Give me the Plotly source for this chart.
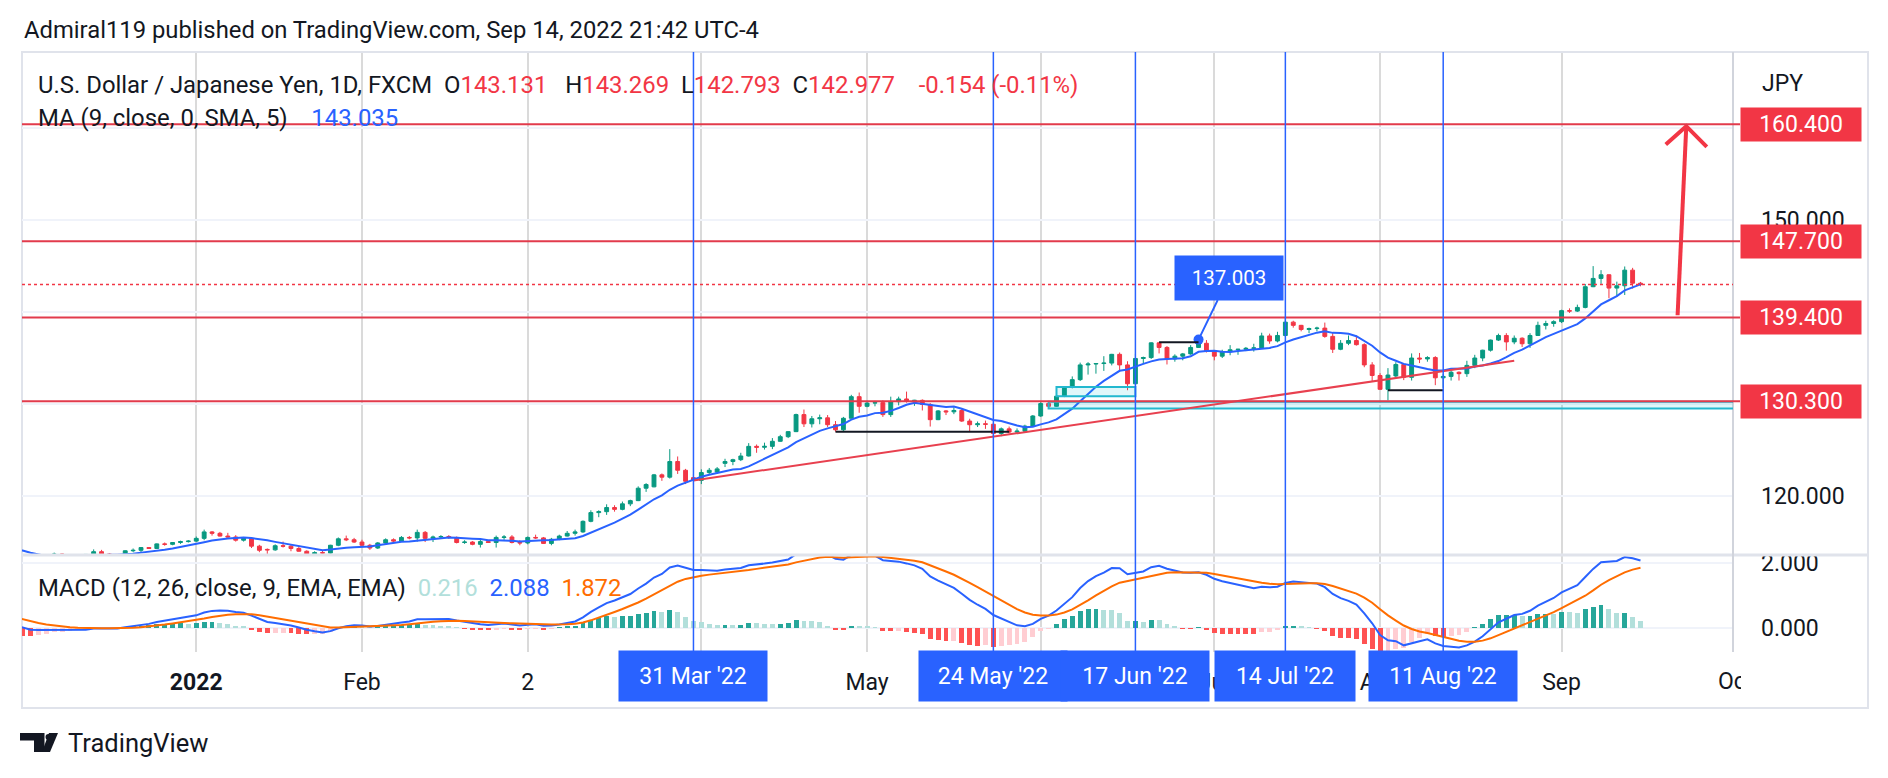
import numpy as np
import pandas as pd
import plotly.graph_objects as go

# ---------------- data ----------------
# closes before the visible window (only used to warm up the indicators)
prior_close = [
    110.00, 109.95, 109.70, 109.85, 110.25, 110.25, 109.95, 109.90, 110.00, 109.70, 109.40,
    109.75, 109.70, 109.95, 109.40, 109.45, 109.75, 110.30, 110.75, 111.00, 111.50, 111.30,
    111.05, 110.95, 111.45, 111.40, 111.60, 112.20, 113.30, 113.60, 113.25, 113.70, 114.20,
    114.35, 114.40, 114.30, 114.00, 113.50, 113.70, 114.15, 113.80, 113.55, 113.95,
    114.00, 113.95, 114.05, 113.75, 113.40, 112.90, 112.85, 113.90, 114.10, 113.90, 114.15,
    114.80, 114.10, 114.30, 114.00, 114.85, 115.05, 115.40, 115.35, 113.40, 113.50, 113.15,
]

bar_open = [
    # Dec 2021
    113.15, 112.80, 113.15, 112.80, 113.45, 113.55, 113.70, 113.45, 113.40, 113.55, 113.65, 113.95,
    113.70, 113.65, 113.60, 114.05, 114.10, 114.40, 114.30, 114.80, 114.75, 114.95, 115.05,
    # Jan
    115.10, 115.40, 116.10, 115.95, 115.65, 115.55, 115.20, 115.40, 114.55, 114.20, 114.15, 114.60,
    114.55, 114.30, 114.00, 113.70, 113.85, 113.80, 114.65, 115.35, 115.25,
    # Feb
    115.00, 114.65, 114.35, 114.90, 115.25, 115.10, 115.50, 115.45, 116.05, 115.40, 115.55, 115.60,
    115.50, 114.95, 115.00, 114.75, 115.05, 114.95, 115.50, 115.55,
    # Mar
    114.95, 114.90, 115.50, 115.45, 114.85, 115.30, 115.65, 115.95, 116.10, 117.25, 118.20, 118.30,
    118.75, 118.55, 119.15, 119.50, 120.85, 121.00, 122.30, 122.05, 123.75, 122.80, 122.00,
    # Apr
    121.70, 122.55, 122.60, 123.55, 123.75, 123.95, 124.35, 125.40, 125.30, 125.40, 125.95, 126.45,
    127.00, 128.85, 127.85, 128.40, 128.50, 127.75, 127.20, 128.45, 130.80,
    # May
    129.75, 130.10, 130.15, 128.85, 130.25, 130.55, 130.35, 130.40, 129.95, 128.30, 129.25, 129.15,
    129.30, 128.15, 127.75, 127.85, 127.80, 126.80, 127.30, 126.95, 127.05, 127.60,
    # Jun
    128.70, 130.05, 129.75, 130.85, 131.90, 132.65, 134.25, 134.35, 134.40, 134.45, 135.40, 134.25,
    132.20, 134.95, 135.05, 136.65, 136.15, 134.90, 135.20, 135.45, 136.15, 136.60,
    # Jul
    135.75, 135.20, 135.70, 135.90, 135.95, 136.05, 136.10, 137.40, 136.85, 137.45, 138.90, 138.55,
    138.10, 138.20, 138.25, 137.35, 135.95, 136.60, 136.90, 136.45, 134.25,
    # Aug
    133.10, 131.60, 133.05, 134.30, 132.90, 135.00, 134.90, 135.05, 132.85, 133.00, 133.45, 133.30,
    134.20, 135.00, 135.85, 136.95, 137.45, 136.75, 137.15, 136.55, 137.45, 138.55, 138.75,
    # Sep
    138.95, 140.15, 140.10, 140.50, 142.75, 143.65, 144.05, 142.60, 142.85, 144.55, 143.131,
]
bar_high = [
    113.60, 113.40, 113.25, 113.50, 113.65, 113.85, 113.75, 113.60, 113.65, 113.70, 114.20, 114.15,
    113.80, 113.70, 114.10, 114.30, 114.45, 114.45, 114.85, 114.95, 115.00, 115.15, 115.20,
    115.60, 116.35, 116.20, 116.10, 116.00, 115.75, 115.55, 115.50, 114.70, 114.30, 114.75, 115.05,
    114.75, 114.55, 114.10, 114.00, 114.05, 114.70, 115.50, 115.70, 115.45,
    115.25, 114.80, 115.00, 115.40, 115.40, 115.65, 115.65, 116.35, 116.20, 115.70, 115.75, 115.75,
    115.60, 115.20, 115.10, 115.25, 115.20, 115.70, 115.75, 115.75,
    115.20, 115.60, 115.80, 115.55, 115.45, 115.80, 116.20, 116.35, 117.35, 118.45, 118.45, 119.10,
    119.00, 119.40, 119.60, 121.05, 121.40, 122.40, 122.45, 125.10, 124.30, 122.95, 122.40,
    122.90, 123.05, 123.15, 124.05, 124.05, 124.70, 125.75, 125.60, 125.80, 126.30, 126.65, 127.05,
    128.95, 129.40, 128.70, 128.85, 128.80, 128.15, 128.60, 131.00, 131.25,
    130.35, 130.35, 130.40, 130.80, 130.80, 131.35, 130.45, 130.50, 130.10, 129.35, 129.35, 129.65,
    129.50, 128.40, 128.10, 128.20, 127.95, 127.45, 127.55, 127.35, 127.75, 128.80,
    130.20, 130.25, 130.95, 131.95, 133.00, 134.50, 134.55, 134.45, 135.20, 135.45, 135.60, 134.65,
    135.45, 135.15, 136.70, 136.70, 136.30, 135.40, 135.55, 136.40, 137.003, 136.95,
    135.80, 135.90, 136.40, 136.00, 136.20, 136.55, 137.75, 137.65, 137.85, 139.40, 139.05, 138.60,
    138.30, 138.40, 138.85, 137.80, 136.95, 137.45, 137.45, 136.60, 134.55,
    133.35, 133.90, 134.55, 134.45, 135.50, 135.55, 135.20, 135.20, 133.25, 133.60, 133.55, 134.70,
    135.35, 135.90, 137.00, 137.65, 137.70, 137.45, 137.25, 137.70, 138.95, 139.05, 139.10,
    140.25, 140.40, 140.80, 143.05, 144.99, 144.55, 144.10, 143.30, 144.95, 144.80, 143.269,
]
bar_low = [
    112.55, 112.65, 112.55, 112.75, 113.30, 113.40, 113.40, 113.25, 113.35, 113.45, 113.50, 113.60,
    113.15, 113.15, 113.55, 113.90, 113.85, 114.25, 114.25, 114.60, 114.65, 114.80, 114.95,
    115.00, 115.20, 115.70, 115.60, 115.50, 115.05, 115.05, 114.35, 113.90, 113.50, 114.05, 114.40,
    114.00, 113.95, 113.60, 113.45, 113.70, 113.75, 114.55, 115.10, 114.90,
    114.55, 114.15, 114.25, 114.80, 114.95, 115.00, 115.30, 115.05, 115.00, 115.00, 115.35, 115.35,
    114.85, 114.80, 114.65, 114.40, 114.90, 114.40, 115.25, 114.85,
    114.65, 114.75, 115.35, 114.80, 114.65, 115.20, 115.60, 115.70, 116.00, 117.15, 117.70, 117.95,
    118.30, 118.45, 118.90, 119.45, 120.45, 120.95, 121.65, 121.90, 122.40, 121.30, 121.20,
    121.30, 122.40, 122.40, 123.15, 123.35, 123.80, 124.30, 124.70, 125.05, 125.10, 125.90, 126.30,
    126.95, 127.50, 127.45, 127.80, 127.50, 127.00, 127.05, 128.40, 129.05,
    129.65, 129.75, 128.60, 128.60, 129.85, 130.15, 129.80, 129.30, 127.55, 128.25, 128.80, 128.90,
    128.05, 127.05, 127.50, 127.30, 126.35, 126.50, 126.80, 126.80, 126.95, 127.50,
    128.60, 129.50, 129.70, 130.75, 131.70, 132.50, 133.20, 133.30, 133.60, 134.20, 133.50, 131.50,
    132.10, 134.40, 134.90, 135.50, 134.30, 134.60, 134.75, 135.35, 136.10, 135.60,
    134.75, 135.00, 135.30, 135.35, 135.75, 135.70, 136.00, 136.55, 136.70, 137.30, 138.30, 137.90,
    137.70, 137.90, 137.20, 135.55, 135.85, 136.40, 136.35, 134.00, 132.50,
    131.55, 130.40, 132.90, 132.60, 132.55, 134.45, 134.60, 132.05, 131.75, 132.55, 132.55, 132.95,
    133.90, 134.65, 135.70, 136.85, 135.80, 136.50, 136.20, 136.10, 137.40, 138.10, 138.40,
    138.80, 139.90, 140.00, 140.40, 142.70, 143.05, 141.50, 141.65, 141.85, 142.55, 142.793,
]
bar_close = [
    112.80, 113.15, 112.80, 113.45, 113.55, 113.70, 113.45, 113.40, 113.55, 113.65, 113.95, 113.70,
    113.65, 113.60, 114.05, 114.10, 114.40, 114.30, 114.80, 114.75, 114.95, 115.05, 115.10,
    115.40, 116.10, 115.95, 115.65, 115.55, 115.20, 115.40, 114.55, 114.10, 114.15, 114.60, 114.55,
    114.30, 114.00, 113.70, 113.85, 113.80, 114.65, 115.35, 115.25, 115.00,
    114.65, 114.35, 114.90, 115.25, 115.10, 115.50, 115.45, 116.05, 115.40, 115.55, 115.60, 115.50,
    114.95, 115.00, 114.75, 115.05, 114.95, 115.50, 115.55, 114.95,
    114.90, 115.50, 115.45, 114.85, 115.30, 115.65, 115.95, 116.10, 117.25, 118.20, 118.30, 118.75,
    118.55, 119.15, 119.50, 120.85, 121.25, 122.30, 122.05, 123.75, 122.80, 121.60, 121.70,
    122.55, 122.80, 122.95, 123.75, 123.95, 124.35, 125.40, 125.30, 125.40, 125.95, 126.45, 127.00,
    128.85, 127.85, 128.40, 128.50, 127.75, 127.20, 128.45, 130.80, 129.75,
    130.10, 130.15, 128.85, 130.25, 130.55, 130.35, 130.40, 129.95, 128.30, 129.25, 129.15, 129.30,
    128.15, 127.75, 127.85, 127.80, 126.80, 127.30, 126.95, 127.05, 127.60, 128.70,
    130.05, 129.75, 130.85, 131.90, 132.65, 134.25, 134.35, 134.40, 134.45, 135.40, 134.25, 132.20,
    134.95, 135.05, 136.65, 136.15, 134.90, 135.20, 135.45, 136.15, 136.60, 135.75,
    135.20, 135.70, 135.90, 135.95, 136.05, 136.10, 137.40, 136.85, 137.45, 138.90, 138.55, 138.10,
    138.20, 138.25, 137.35, 135.95, 136.60, 136.90, 136.45, 134.25, 133.10,
    131.60, 133.15, 134.30, 132.90, 135.00, 134.90, 135.05, 132.85, 133.00, 133.45, 133.30, 134.20,
    135.00, 135.85, 136.95, 137.45, 136.75, 137.15, 136.55, 137.45, 138.55, 138.75, 138.95,
    140.15, 140.10, 140.50, 142.75, 143.65, 144.05, 142.60, 142.85, 144.55, 143.13, 142.977,
]
last_day = "2022-09-15"

month_ticks = ["2022-01-03", "2022-02-01", "2022-03-02", "2022-04-01", "2022-05-02",
               "2022-06-01", "2022-07-01", "2022-08-01", "2022-09-01"]
month_labels = ["<b>2022</b>", "Feb", "2", "Apr", "May", "Jun", "Jul", "Aug", "Sep"]

marker_dates = ["2022-03-31", "2022-05-24", "2022-06-17", "2022-07-14", "2022-08-11"]
marker_labels = ["31 Mar '22", "24 May '22", "17 Jun '22", "14 Jul '22", "11 Aug '22"]

levels = [160.4, 147.7, 139.4, 130.3]
level_labels = ["160.400", "147.700", "139.400", "130.300"]
last_price = 142.977
legend_ohlc = ["143.131", "143.269", "142.793", "142.977"]
legend_change = "-0.154 (-0.11%)"
ma_value = "143.035"
macd_values = ["0.216", "2.088", "1.872"]

trend_points = [("2022-03-31", 121.70), ("2022-08-24", 134.70)]
black_lines = [("2022-04-26", "2022-05-26", 127.00),
               ("2022-06-22", "2022-06-29", 136.70),
               ("2022-08-02", "2022-08-11", 131.50)]
cyan_boxes = [("2022-06-03", "2022-06-17", 130.85, 131.85),
              ("2022-06-02", None, 129.50, 130.25)]
callout = ("2022-06-29", 137.003, "137.003")
# future bars (beyond the last candle) used by the hand-drawn arrow
arrow_shaft_bar = [187.7, 188.8]
arrow_shaft_price = [139.65, 160.20]
arrow_head_bar = [186.2, 188.8, 191.4]
arrow_head_price = [158.20, 160.20, 157.95]

# ---------------- colours / geometry ----------------
UP, DN = "#089981", "#f23645"
BLUE, ORANGE = "#2962ff", "#ff6d00"
TXT = "#131722"
FONT = "Roboto"
W, H = 1888, 778
ML, MR, MT, MB = 22, 155, 53, 126
PW, PH = W - ML - MR, H - MT - MB


def px_x(px):
    return (px - ML) / PW


def px_y(py):
    return (H - MB - py) / PH


# ---------------- bar positions via trading calendar ----------------
n_all = len(prior_close) + len(bar_close)
days = pd.bdate_range(end=last_day, periods=n_all)
day_pos = {d: i for i, d in enumerate(days)}
origin = day_pos[pd.Timestamp("2022-01-03")]


def bar_of(d):
    return day_pos[pd.Timestamp(d)] - origin


all_x = np.arange(n_all) - origin
nv = len(bar_close)
xv = all_x[-nv:]

# ---------------- indicators ----------------
close_all = pd.Series(prior_close + bar_close, dtype=float)
ma9 = close_all.rolling(9).mean().to_numpy()[-nv:]
ema12 = close_all.ewm(span=12, adjust=False).mean()
ema26 = close_all.ewm(span=26, adjust=False).mean()
macd_s = ema12 - ema26
sig_s = macd_s.ewm(span=9, adjust=False).mean()
hist_s = macd_s - sig_s
prev = hist_s.shift(1)
hcol = np.where(hist_s >= 0,
                np.where(hist_s > prev, "#26a69a", "#b2dfdb"),
                np.where(hist_s > prev, "#ffcdd2", "#ff5252"))
macd = macd_s.to_numpy()[-nv:]
sig = sig_s.to_numpy()[-nv:]
hist = hist_s.to_numpy()[-nv:]
hcol = hcol[-nv:]

XR = [-22.08, 194.72]

fig = go.Figure()
fig.add_trace(go.Candlestick(
    x=xv, open=bar_open, high=bar_high, low=bar_low, close=bar_close,
    increasing=dict(line=dict(color=UP, width=1), fillcolor=UP),
    decreasing=dict(line=dict(color=DN, width=1), fillcolor=DN),
    whiskerwidth=0, showlegend=False, hoverinfo="skip", xaxis="x", yaxis="y"))
fig.add_trace(go.Scatter(x=xv, y=ma9, mode="lines", line=dict(color=BLUE, width=2),
                         showlegend=False, hoverinfo="skip", xaxis="x", yaxis="y"))
fig.add_trace(go.Bar(x=xv, y=hist, marker=dict(color=list(hcol), line=dict(width=0)), width=0.62,
                     showlegend=False, hoverinfo="skip", xaxis="x2", yaxis="y2"))
fig.add_trace(go.Scatter(x=xv, y=macd, mode="lines", line=dict(color=BLUE, width=2),
                         showlegend=False, hoverinfo="skip", xaxis="x2", yaxis="y2"))
fig.add_trace(go.Scatter(x=xv, y=sig, mode="lines", line=dict(color=ORANGE, width=2),
                         showlegend=False, hoverinfo="skip", xaxis="x2", yaxis="y2"))

# hand-drawn arrow
fig.add_trace(go.Scatter(x=arrow_shaft_bar, y=arrow_shaft_price, mode="lines",
                         line=dict(color=DN, width=4), showlegend=False, hoverinfo="skip"))
fig.add_trace(go.Scatter(x=arrow_head_bar, y=arrow_head_price, mode="lines",
                         line=dict(color=DN, width=4), showlegend=False, hoverinfo="skip"))
# callout anchor dot
fig.add_trace(go.Scatter(x=[bar_of(callout[0])], y=[callout[1]], mode="markers",
                         marker=dict(color=BLUE, size=10), showlegend=False, hoverinfo="skip"))

tick_x = [bar_of(d) for d in month_ticks]
VGRID, HGRID = "#dadada", "#f0f3fa"
axfont = dict(family=FONT, size=23, color=TXT)

shapes = []
# frame
shapes.append(dict(type="rect", xref="paper", yref="paper", x0=px_x(22), x1=px_x(1868),
                   y0=px_y(708), y1=px_y(52), line=dict(color="#e0e3eb", width=2), layer="below"))
# pane separator
shapes.append(dict(type="line", xref="paper", yref="paper", x0=px_x(22), x1=px_x(1868),
                   y0=px_y(555), y1=px_y(555), line=dict(color="#e0e3eb", width=3)))
# price-axis border
shapes.append(dict(type="line", xref="paper", yref="paper", x0=1, x1=1,
                   y0=px_y(652), y1=px_y(52), line=dict(color="#d1d4dc", width=2)))
# MACD zero line
shapes.append(dict(type="line", xref="paper", yref="y2", x0=0, x1=1, y0=0, y1=0,
                   line=dict(color="#9598a1", width=1.5, dash="dash"), layer="below"))
# cyan zones
for d0, d1, lo, hi in cyan_boxes:
    shapes.append(dict(type="rect", xref="x", yref="y", x0=bar_of(d0),
                       x1=(bar_of(d1) if d1 else 200), y0=lo, y1=hi,
                       line=dict(color="#22b8cf", width=2), fillcolor="rgba(0,188,212,0.12)"))
# trend line
shapes.append(dict(type="line", xref="x", yref="y",
                   x0=bar_of(trend_points[0][0]), y0=trend_points[0][1],
                   x1=bar_of(trend_points[1][0]), y1=trend_points[1][1],
                   line=dict(color="#e8404f", width=2)))
# black support lines
for d0, d1, lv in black_lines:
    shapes.append(dict(type="line", xref="x", yref="y", x0=bar_of(d0), x1=bar_of(d1),
                       y0=lv, y1=lv, line=dict(color="#131722", width=2)))
# horizontal levels
for lv in levels:
    shapes.append(dict(type="line", xref="paper", yref="y", x0=0, x1=px_x(1740), y0=lv, y1=lv,
                       line=dict(color="#e23b4c", width=2)))
# last price dotted line
shapes.append(dict(type="line", xref="paper", yref="y", x0=0, x1=1, y0=last_price, y1=last_price,
                   line=dict(color=DN, width=1.5, dash="dot")))
# blue date markers
for d in marker_dates:
    shapes.append(dict(type="line", xref="x", yref="paper", x0=bar_of(d), x1=bar_of(d),
                       y0=0, y1=1 + 1 / PH, line=dict(color=BLUE, width=1.5)))
# TradingView logo
shapes.append(dict(type="path", xref="paper", yref="paper",
                   path="M {} {} L {} {} L {} {} L {} {} L {} {} L {} {} Z".format(
                       px_x(20), px_y(733), px_x(44.5), px_y(733), px_x(44.5), px_y(752),
                       px_x(34), px_y(752), px_x(34), px_y(740.5), px_x(20), px_y(740.5)),
                   fillcolor=TXT, line=dict(width=0)))
shapes.append(dict(type="circle", xref="paper", yref="paper", x0=px_x(45.5), x1=px_x(51.5),
                   y0=px_y(740), y1=px_y(734), fillcolor=TXT, line=dict(width=0)))
shapes.append(dict(type="path", xref="paper", yref="paper",
                   path="M {} {} L {} {} L {} {} L {} {} Z".format(
                       px_x(49), px_y(733), px_x(58), px_y(733), px_x(50), px_y(752),
                       px_x(42), px_y(752)),
                   fillcolor=TXT, line=dict(width=0)))

nb = "\u00a0"
red = lambda s: '<span style="color:{}">{}</span>'.format(DN, s)
legend1 = ("U.S. Dollar / Japanese Yen, 1D, FXCM" + nb * 2 + "O" + red(legend_ohlc[0]) + nb * 3 + "H" +
           red(legend_ohlc[1]) + nb * 2 + "L" + red(legend_ohlc[2]) + nb * 2 + "C" + red(legend_ohlc[3]) +
           nb * 4 + red(legend_change))
legend2 = "MA (9, close, 0, SMA, 5)" + nb * 4 + '<span style="color:{}">{}</span>'.format(BLUE, ma_value)
legend3 = ("MACD (12, 26, close, 9, EMA, EMA)" + nb * 2 +
           '<span style="color:#b2dfdb">{}</span>'.format(macd_values[0]) + nb * 2 +
           '<span style="color:{}">{}</span>'.format(BLUE, macd_values[1]) + nb * 2 +
           '<span style="color:{}">{}</span>'.format(ORANGE, macd_values[2]))

ann = []


def txt(x, y, s, size=23, anchor="left"):
    ann.append(dict(xref="paper", yref="paper", x=px_x(x), y=px_y(y), text=s, showarrow=False,
                    xanchor=anchor, yanchor="middle", font=dict(family=FONT, size=size, color=TXT)))


txt(22, 30, "Admiral119 published on TradingView.com, Sep 14, 2022 21:42 UTC-4", 23.8)
txt(36, 85, legend1, 23.9)
txt(36, 118, legend2, 23.9)
txt(36, 588, legend3, 23.9)
txt(1760, 83, "JPY", 23)
txt(66, 743, "TradingView", 25.5)
ann.append(dict(xref="paper", yref="paper", x=px_x(1716), y=px_y(681), text="Oct", showarrow=False,
                xanchor="left", yanchor="middle", width=23, align="left",
                font=dict(family=FONT, size=23, color=TXT)))

for lv, lab in zip(levels, level_labels):
    ann.append(dict(xref="paper", yref="y", x=px_x(1740), y=lv, text=lab, showarrow=False,
                    xanchor="left", yanchor="middle", bgcolor="#f23645", width=120, height=33,
                    borderpad=0, font=dict(family=FONT, size=23, color="white")))

for d, lab in zip(marker_dates, marker_labels):
    ann.append(dict(xref="x2", yref="paper", x=bar_of(d), y=px_y(676), text=lab, showarrow=False,
                    xanchor="center", yanchor="middle", bgcolor=BLUE,
                    width=(140 if "Jul" in lab else 148), height=50, borderpad=0,
                    font=dict(family=FONT, size=23, color="white")))

ann.append(dict(xref="x", yref="y", x=bar_of(callout[0]), y=callout[1], text=callout[2],
                showarrow=True, arrowhead=0, arrowwidth=2, arrowcolor=BLUE, standoff=0,
                ax=30, ay=-62, axref="pixel", ayref="pixel", bgcolor=BLUE, width=108, height=44,
                borderpad=0, font=dict(family=FONT, size=20.5, color="white")))

fig.update_layout(
    width=W, height=H, margin=dict(l=ML, r=MR, t=MT, b=MB),
    paper_bgcolor="white", plot_bgcolor="white",
    font=dict(family=FONT, color=TXT),
    showlegend=False, bargap=0,
    xaxis=dict(domain=[0, 1], range=XR, anchor="y", tickvals=tick_x, showticklabels=False,
               showgrid=True, gridcolor=VGRID, gridwidth=1.5, zeroline=False, showline=False,
               ticks="", rangeslider=dict(visible=False), fixedrange=True, automargin=False),
    xaxis2=dict(domain=[0, 1], range=XR, anchor="y2", matches="x", tickvals=tick_x,
                ticktext=month_labels, ticks="", ticklen=0, ticklabelstandoff=14, tickfont=axfont,
                showgrid=True, gridcolor=VGRID, gridwidth=1.5, zeroline=False, showline=False,
                rangeslider=dict(visible=False), fixedrange=True, automargin=False),
    yaxis=dict(domain=[px_y(554), 1], range=[113.7, 168.15], anchor="x", side="right",
               tickvals=[120, 130, 140, 150, 160],
               ticktext=["120.000", "130.000", "140.000", "150.000", "160.000"],
               showgrid=True, gridcolor=HGRID, gridwidth=1.5, zeroline=False, showline=False,
               ticks="", ticklabelstandoff=27, tickfont=axfont, fixedrange=True, automargin=False),
    yaxis2=dict(domain=[0, px_y(556)], range=[-0.742, 2.226], anchor="x2", side="right",
                tickvals=[0, 2], ticktext=["0.000", "2.000"], showgrid=True, gridcolor=HGRID,
                gridwidth=1.5, zeroline=False, showline=False, ticks="", ticklabelstandoff=27,
                tickfont=axfont, fixedrange=True, automargin=False),
    shapes=shapes, annotations=ann,
)

fig.write_html("out.html", config={"displayModeBar": False},
               post_script="document.body.style.margin='0';")
